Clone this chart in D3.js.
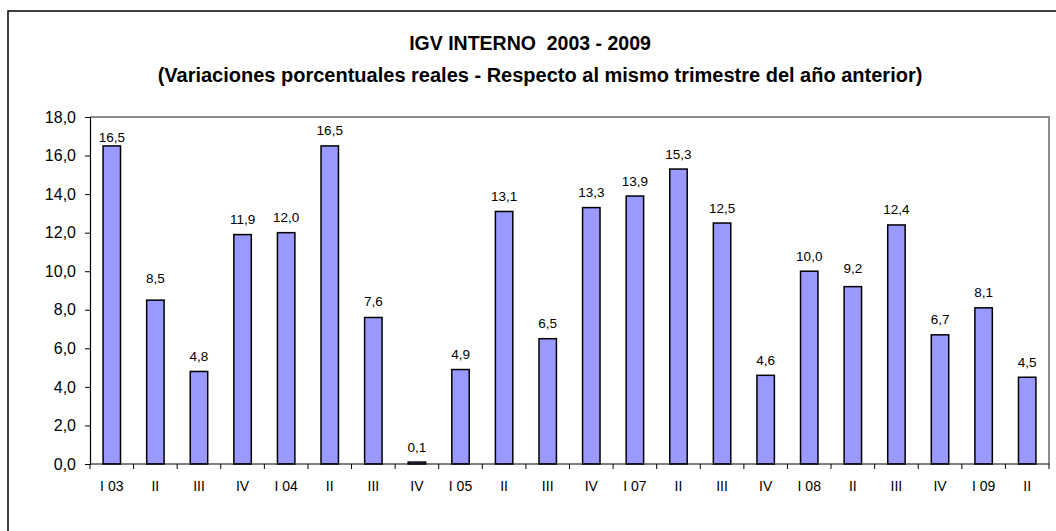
<!DOCTYPE html>
<html>
<head>
<meta charset="utf-8">
<script src="https://cdn.jsdelivr.net/npm/d3@7"></script>
<style>
  body { margin: 0; background: #fff; }
  text { font-family: "Liberation Sans", Arial, sans-serif; fill: #000; white-space: pre; }
</style>
</head>
<body>
<svg id="chart" width="1056" height="531"></svg>
<script>
// Quarter labels as printed under the bars
const quarters = ["I 03", "II", "III", "IV", "I 04", "II", "III", "IV", "I 05", "II", "III",
                  "IV", "I 07", "II", "III", "IV", "I 08", "II", "III", "IV", "I 09", "II"];
// Real % variation vs same quarter of previous year
const values = [16.5, 8.5, 4.8, 11.9, 12.0, 16.5, 7.6, 0.1, 4.9, 13.1, 6.5,
                13.3, 13.9, 15.3, 12.5, 4.6, 10.0, 9.2, 12.4, 6.7, 8.1, 4.5];
const yTicks = [0, 2, 4, 6, 8, 10, 12, 14, 16, 18];

const title = "IGV INTERNO  2003 - 2009";
const subtitle = "(Variaciones porcentuales reales - Respecto al mismo trimestre del año anterior)";

// a few labels were dragged by hand in the original sheet
const labelNudge = { 0: 7, 1: -7, 6: -1, 17: -3 };

const margin = { top: 117, right: 7, bottom: 67, left: 90 };
const W = 1056, H = 531;
const width = W - margin.left - margin.right;
const height = H - margin.top - margin.bottom;

const svg = d3.select("#chart");
const fmt = v => d3.format(".1f")(v).replace(".", ",");

// outer chart border
svg.append("rect")
    .attr("x", 8).attr("y", 11)
    .attr("width", W).attr("height", H)
    .attr("fill", "none")
    .attr("stroke", "#000")
    .attr("stroke-width", 1.5);

// titles
svg.append("text")
    .attr("x", 530).attr("y", 50)
    .attr("text-anchor", "middle")
    .attr("font-size", "19.5px").attr("font-weight", "bold")
    .text(title);
svg.append("text")
    .attr("x", 540).attr("y", 82)
    .attr("text-anchor", "middle")
    .attr("font-size", "20px").attr("font-weight", "bold")
    .text(subtitle);

const g = svg.append("g").attr("transform", `translate(${margin.left},${margin.top})`);

const x = d3.scaleBand().domain(d3.range(values.length)).range([0, width])
    .paddingInner(0.6).paddingOuter(0.3);
const y = d3.scaleLinear().domain([0, 18]).range([height, 0]);

// plot area frame (gray top/right)
g.append("path")
    .attr("d", `M0,0H${width}V${height}`)
    .attr("fill", "none")
    .attr("stroke", "#8c8c8c")
    .attr("stroke-width", 2);

// bars
g.selectAll(".bar")
    .data(values)
    .join("rect")
    .attr("class", "bar")
    .attr("x", (d, i) => x(i))
    .attr("width", x.bandwidth())
    .attr("y", d => y(d))
    .attr("height", d => Math.max(0, y(0) - y(d)))
    .attr("fill", "#9999ff")
    .attr("stroke", "#000")
    .attr("stroke-width", 1.5);

// value labels
g.selectAll(".val")
    .data(values)
    .join("text")
    .attr("class", "val")
    .attr("x", (d, i) => x(i) + x.bandwidth() / 2)
    .attr("y", (d, i) => y(d) - 10.5 + (labelNudge[i] || 0))
    .attr("text-anchor", "middle")
    .attr("font-size", "13.5px")
    .text(d => fmt(d));

// y axis
const yAxis = g.append("g")
    .call(d3.axisLeft(y).tickValues(yTicks).tickFormat(fmt).tickSizeOuter(0).tickSize(5));
yAxis.select(".domain").attr("stroke", "#000").attr("stroke-width", 1.2);
yAxis.selectAll("text").attr("font-size", "16px").attr("x", -14);

// x axis: ticks at category boundaries
const step = x.step();
const xg = g.append("g").attr("transform", `translate(0,${height})`);
xg.append("line")
    .attr("x1", 0).attr("x2", width)
    .attr("stroke", "#000").attr("stroke-width", 1.2);
xg.selectAll(".tick")
    .data(d3.range(values.length + 1))
    .join("line")
    .attr("x1", i => i * step).attr("x2", i => i * step)
    .attr("y1", 0).attr("y2", 5)
    .attr("stroke", "#000");
xg.selectAll(".lab")
    .data(quarters)
    .join("text")
    .attr("x", (d, i) => x(i) + x.bandwidth() / 2)
    .attr("y", 27)
    .attr("text-anchor", "middle")
    .attr("font-size", "14px")
    .text(d => d);
</script>
</body>
</html>
